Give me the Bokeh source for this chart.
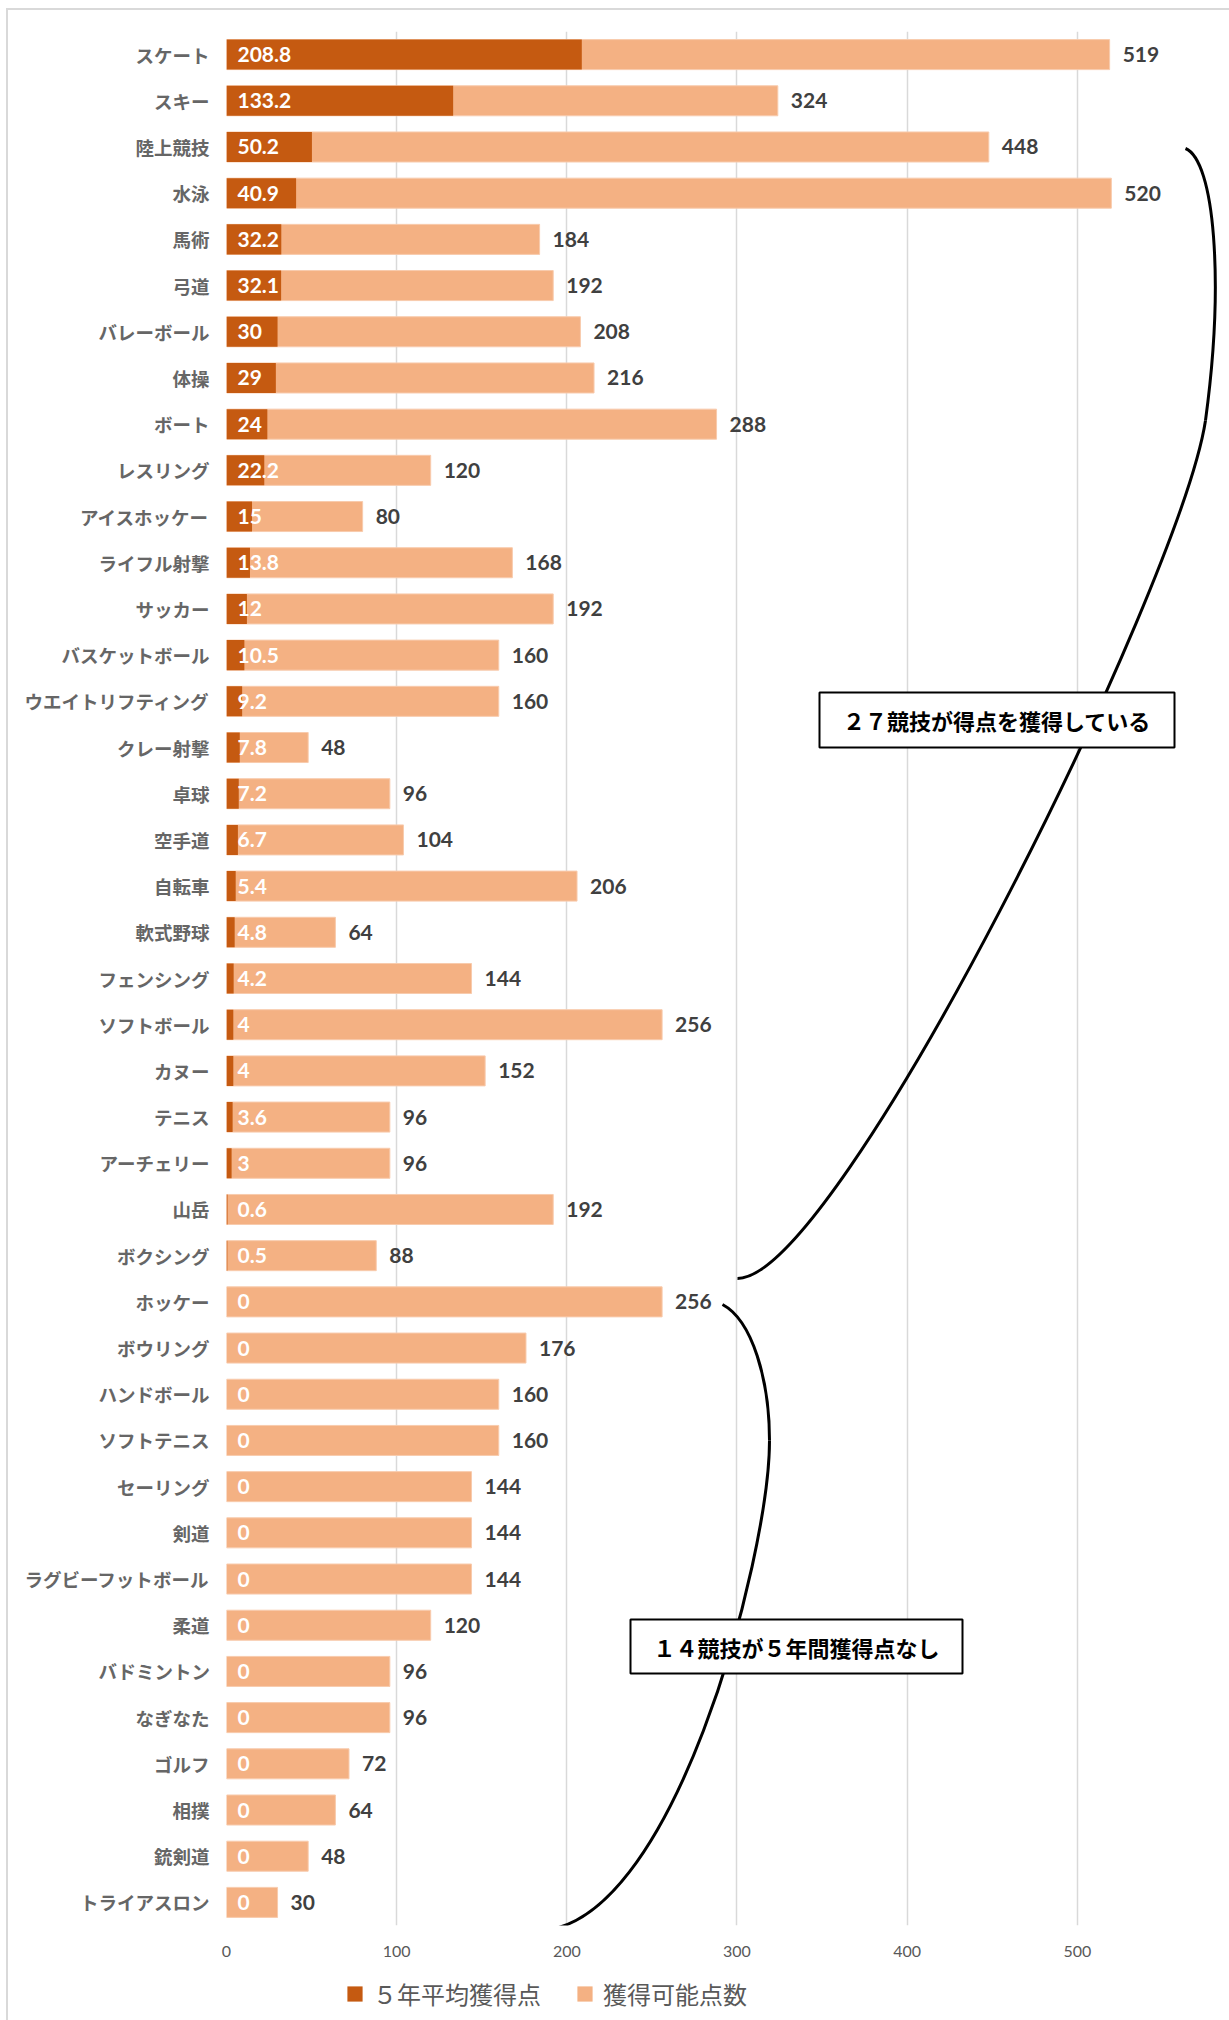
from bokeh.plotting import figure
from bokeh.layouts import column
from bokeh.models import (FactorRange, Range1d, ColumnDataSource, Legend, LegendItem,
                          FixedTicker)
from bokeh.core.properties import value
from bokeh.embed import file_html
from bokeh.resources import INLINE

# ---------------- data ----------------
sports = ["スケート", "スキー", "陸上競技", "水泳", "馬術", "弓道", "バレーボール", "体操",
          "ボート", "レスリング", "アイスホッケー", "ライフル射撃", "サッカー", "バスケットボール",
          "ウエイトリフティング", "クレー射撃", "卓球", "空手道", "自転車", "軟式野球",
          "フェンシング", "ソフトボール", "カヌー", "テニス", "アーチェリー", "山岳", "ボクシング",
          "ホッケー", "ボウリング", "ハンドボール", "ソフトテニス", "セーリング", "剣道",
          "ラグビーフットボール", "柔道", "バドミントン", "なぎなた", "ゴルフ", "相撲", "銃剣道",
          "トライアスロン"]
avg_points = [208.8, 133.2, 50.2, 40.9, 32.2, 32.1, 30, 29, 24, 22.2, 15, 13.8, 12, 10.5,
              9.2, 7.8, 7.2, 6.7, 5.4, 4.8, 4.2, 4, 4, 3.6, 3, 0.6, 0.5,
              0, 0, 0, 0, 0, 0, 0, 0, 0, 0, 0, 0, 0, 0]
max_points = [519, 324, 448, 520, 184, 192, 208, 216, 288, 120, 80, 168, 192, 160,
              160, 48, 96, 104, 206, 64, 144, 256, 152, 96, 96, 192, 88,
              256, 176, 160, 160, 144, 144, 144, 120, 96, 96, 72, 64, 48, 30]
x_ticks = [0, 100, 200, 300, 400, 500]
legend_labels = ["５年平均獲得点", "獲得可能点数"]
note_scored = "２７競技が得点を獲得している"
note_none = "１４競技が５年間獲得点なし"

# ---------------- layout constants ----------------
W, H = 1229, 2020
HM = 1965                         # height of the main chart canvas
FL, FT, FB = 226, 31, 1925
PXU = 1.7016                      # pixels per x unit
XMAX = (W - FL) / PXU
N = len(sports)
ROW = (FB - FT) / N
JP_FONT = "Noto Sans CJK JP"
DARK, LIGHT, LIGHT_EDGE = "#C55A11", "#F4B183", "#F8CBAD"
BORDER = "#D9D9D9"


def fx(px):
    return (px - FL) / PXU


def fy(py):
    return (FB - py) / ROW


src = ColumnDataSource(dict(
    sport=sports, avg=avg_points, total=max_points,
    avg_txt=[f"{v:g}" for v in avg_points],
    total_txt=[f"{v:g}" for v in max_points],
))

p = figure(width=W, height=HM,
           y_range=FactorRange(factors=sports[::-1], range_padding=0, factor_padding=0),
           x_range=Range1d(0, XMAX),
           output_backend="svg", toolbar_location=None,
           min_border_left=FL, min_border_right=0, min_border_top=FT,
           min_border_bottom=HM - FB)
p.outline_line_color = None
p.background_fill_color = "white"
p.border_fill_color = None
# light grey chart-area border on the left and top edges
p.styles = {
    "background-color": "white",
    "background-image": f"linear-gradient({BORDER}, {BORDER}), linear-gradient({BORDER}, {BORDER})",
    "background-size": "2px 2100px, 1300px 2px",
    "background-position": "6px 8px, 6px 8px",
    "background-repeat": "no-repeat",
}

light = p.hbar(y="sport", left=0, right="total", height=0.65, source=src,
               fill_color=LIGHT, line_color=LIGHT_EDGE, line_width=1)
dark = p.hbar(y="sport", left=0, right="avg", height=0.65, source=src,
              fill_color=DARK, line_color=None)

p.text(x=0, y="sport", text="avg_txt", source=src, x_offset=11,
       text_align="left", text_baseline="middle", text_color="white",
       text_font=value("Lato"), text_font_style="bold", text_font_size="21px")
p.text(x="total", y="sport", text="total_txt", source=src, x_offset=13,
       text_align="left", text_baseline="middle", text_color="#404040",
       text_font=value("Lato"), text_font_style="bold", text_font_size="21px")

# axes
p.xaxis.ticker = FixedTicker(ticks=x_ticks)
p.xgrid.ticker = FixedTicker(ticks=x_ticks)
p.xaxis.axis_line_color = None
p.xaxis.major_tick_line_color = None
p.xaxis.minor_tick_line_color = None
p.xaxis.major_label_text_font = "Lato"
p.xaxis.major_label_text_font_size = "16px"
p.xaxis.major_label_text_color = "#595959"
p.xaxis.major_label_standoff = 14

p.yaxis.axis_line_color = None
p.yaxis.major_tick_line_color = None
p.yaxis.minor_tick_line_color = None
p.yaxis.major_label_text_font = JP_FONT
p.yaxis.major_label_text_font_style = "bold"
p.yaxis.major_label_text_font_size = "18.5px"
p.yaxis.major_label_text_color = "#666666"
p.yaxis.major_label_standoff = 11

p.xgrid.grid_line_color = BORDER
p.xgrid.grid_line_width = 1.5
p.ygrid.grid_line_color = None

# braces
p.bezier(x0=[fx(1185), fx(1205), fx(722), fx(769)],
         y0=[fy(148), fy(420), fy(1304), fy(1440)],
         x1=[fx(1205), fx(737), fx(769), fx(535)],
         y1=[fy(420), fy(1278), fy(1440), fy(1930)],
         cx0=[fx(1214), fx(1180), fx(752), fx(769)],
         cy0=[fy(160), fy(583), fy(1320), fy(1556)],
         cx1=[fx(1224), fx(838), fx(769), fx(671)],
         cy1=[fy(280), fy(1278), fy(1380), fy(1934)],
         line_color="black", line_width=3)

# note boxes
p.quad(left=[fx(819), fx(630)], right=[fx(1174), fx(962)],
       top=[fy(692), fy(1619)], bottom=[fy(747), fy(1673)],
       fill_color="white", line_color="black", line_width=2)
p.text(x=[fx(996.5), fx(796)], y=[fy(719.5), fy(1646)], text=[note_scored, note_none],
       text_align="center", text_baseline="middle", text_color="black",
       text_font=value("Noto Sans CJK JP"), text_font_style="bold",
       text_font_size="22px")

# ---------------- legend strip below the chart ----------------
HL = H - HM
pl = figure(width=W, height=HL, x_range=Range1d(0, 1), y_range=Range1d(0, 1),
            output_backend="svg", toolbar_location=None,
            min_border=0, min_border_left=0, min_border_right=0,
            min_border_top=0, min_border_bottom=0)
pl.axis.visible = False
pl.grid.visible = False
pl.outline_line_color = None
pl.background_fill_color = None
pl.border_fill_color = None
pl.styles = {
    "background-color": "white",
    "background-image": f"linear-gradient({BORDER}, {BORDER})",
    "background-size": "2px 200px",
    "background-position": "6px 0px",
    "background-repeat": "no-repeat",
}
key_dark = pl.hbar(y=[0.5], left=[0], right=[0], height=0.1,
                   fill_color=DARK, line_color=None)
key_light = pl.hbar(y=[0.5], left=[0], right=[0], height=0.1,
                    fill_color=LIGHT, line_color=None)

legend = Legend(items=[LegendItem(label=legend_labels[0], renderers=[key_dark]),
                       LegendItem(label=legend_labels[1], renderers=[key_light])],
                orientation="horizontal", location=(119, 9))
legend.glyph_width = 19
legend.glyph_height = 19
legend.label_standoff = 9
legend.spacing = 34
legend.padding = 0
legend.margin = 0
legend.border_line_color = None
legend.background_fill_alpha = 0
legend.label_text_font = "Noto Sans CJK JP"
legend.label_text_font_size = "24px"
legend.label_text_color = "#595959"
pl.add_layout(legend)

page = column(p, pl, spacing=0)
open("out.html", "w").write(file_html(page, INLINE))
